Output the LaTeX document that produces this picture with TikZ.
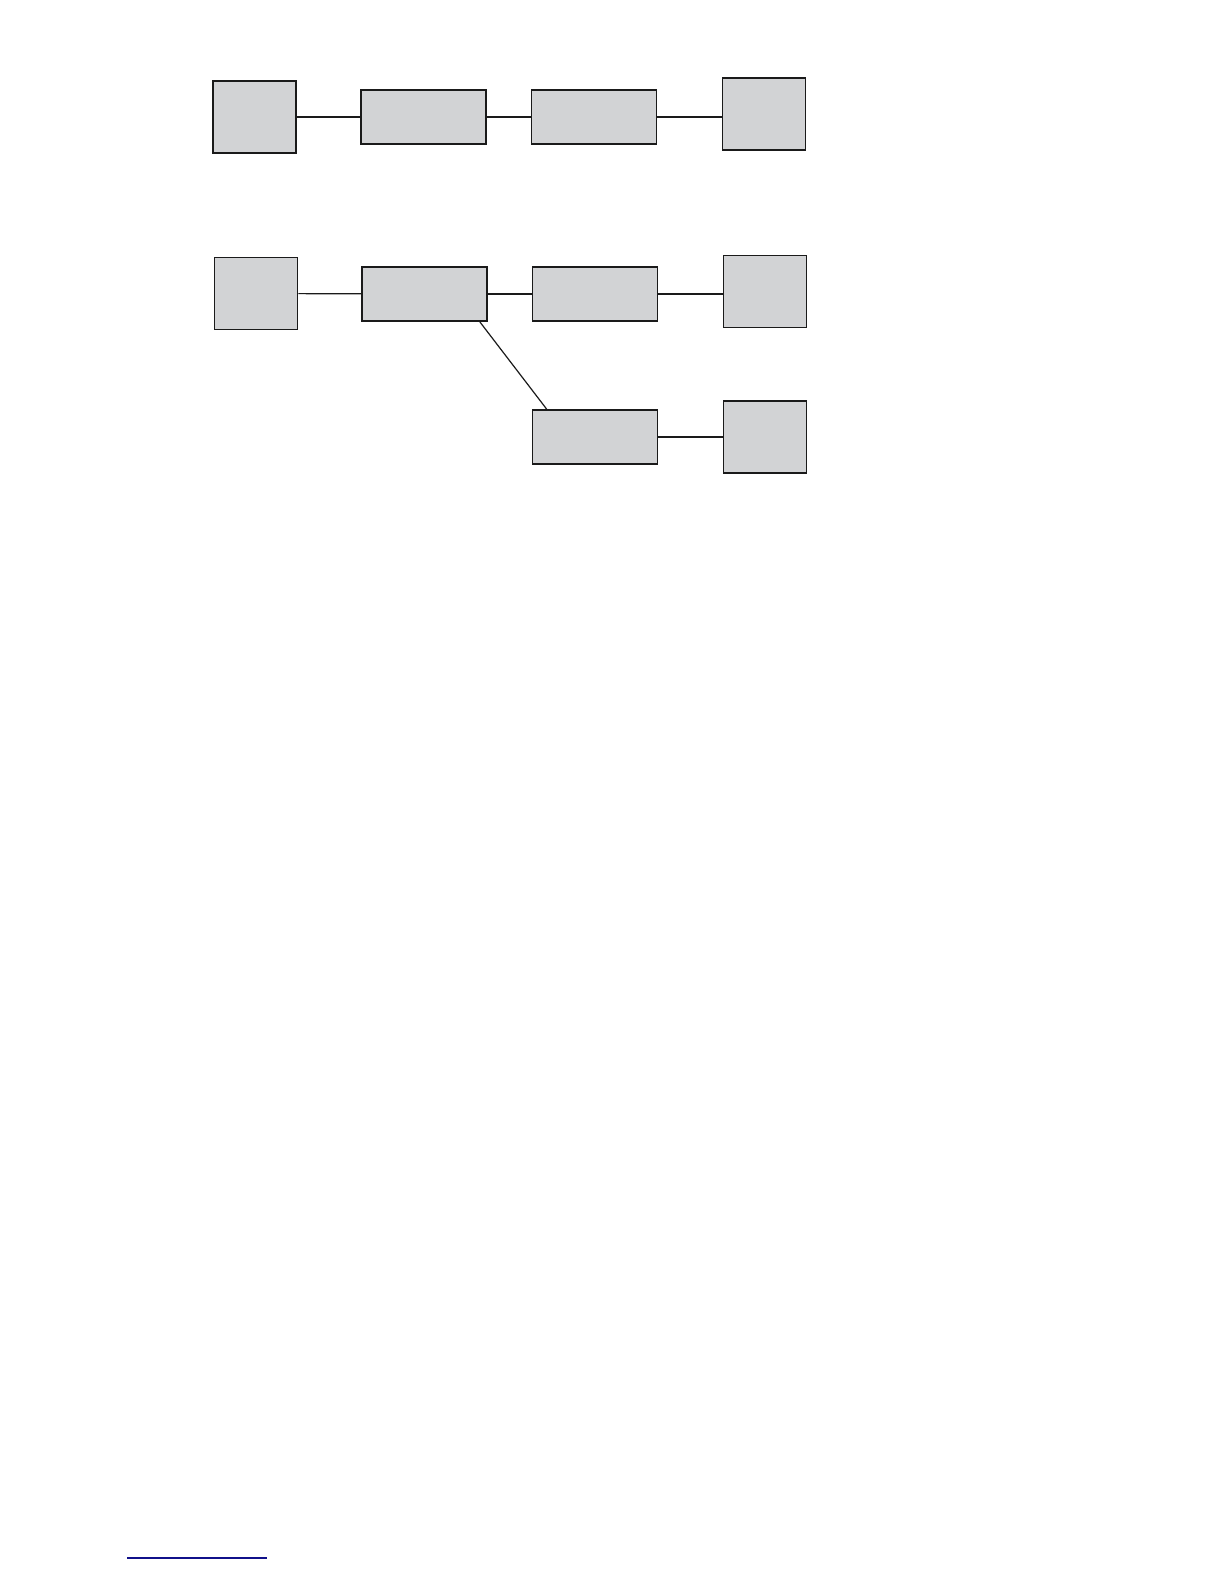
\documentclass[tikz,border=0pt]{standalone}
\usepackage{xcolor}
\usepackage{tikz}
\definecolor{boxfill}{HTML}{D2D3D5}
\definecolor{edge}{HTML}{1A1A1A}
\definecolor{rule}{HTML}{10108A}
\tikzset{
  sq/.style={draw=edge, fill=boxfill, line width=0.75pt, inner sep=0pt, minimum width=41.5pt, minimum height=36pt},
  wide/.style={draw=edge, fill=boxfill, line width=0.75pt, inner sep=0pt, minimum width=62.5pt, minimum height=27pt},
  link/.style={draw=edge, line width=0.6pt},
}
\begin{document}
\begin{tikzpicture}[x=0.5pt,y=-0.5pt]
  \useasboundingbox (0,0) rectangle (1224,1584);
  % upper chain
  \node[sq]   (a1) at (254.5,117) {};
  \node[wide] (b1) at (423.5,117) {};
  \node[wide] (c1) at (594,117) {};
  \node[sq]   (d1) at (764,114) {};
  \draw[link] (a1) -- (b1);
  \draw[link] (b1) -- (c1);
  \draw[link] (c1.east) -- (c1.east -| d1.west);
  % lower chain with branch
  \node[sq]   (a2) at (256,293.5) {};
  \node[wide] (b2) at (424.5,294) {};
  \node[wide] (c2) at (595,294) {};
  \node[sq]   (d2) at (765,291.5) {};
  \node[wide] (e2) at (595,437) {};
  \node[sq]   (f2) at (765,437) {};
  \draw[link] (a2) -- (b2);
  \draw[link] (b2.east) -- (b2.east -| c2.west);
  \draw[link] (c2.east) -- (c2.east -| d2.west);
  \draw[link] ([xshift=-4pt]b2.south east) -- ([xshift=7.5pt]e2.north west);
  \draw[link] (e2) -- (f2);
  % footnote rule
  \coordinate (r0) at (127,1558);
  \coordinate (r1) at (267,1558);
  \draw[draw=rule, line width=0.75pt] (r0) -- (r1);
\end{tikzpicture}
\end{document}
